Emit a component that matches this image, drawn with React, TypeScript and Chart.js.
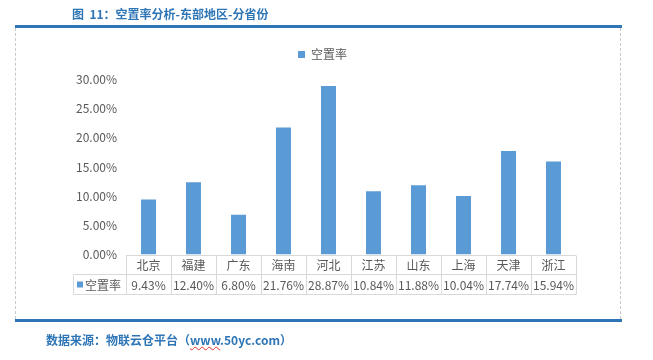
import React, { useEffect, useRef } from "react";
import { Chart, registerables } from "chart.js";

Chart.register(...registerables);

const categories = ["北京", "福建", "广东", "海南", "河北", "江苏", "山东", "上海", "天津", "浙江"];
const vacancyRate = [9.43, 12.4, 6.8, 21.76, 28.87, 10.84, 11.88, 10.04, 17.74, 15.94];
const seriesName = "空置率";
const titleText = "图  11：空置率分析-东部地区-分省份";
const sourceText = "数据来源：物联云仓平台（";
const sourceUrl = "www.50yc.com";

const FONT = '"Noto Sans CJK SC", "Noto Sans", sans-serif';
const BAR = "#5B9BD5";
const TEXT = "#595959";
const LINE = "#D9D9D9";
const BLUE = "#2E75B6";

const tablePlugin = {
  id: "dataTable",
  afterDraw(chart: any) {
    const ctx = chart.ctx;
    const xs = chart.scales.x;
    const area = chart.chartArea;
    const n = categories.length;
    const cw = (xs.right - xs.left) / n;
    const left = xs.left;
    const right = xs.right;
    const top = Math.round(area.bottom) + 0.5;
    const mid = top + 19;
    const bot = top + 39;
    const tableLeft = 73.5;
    ctx.save();
    ctx.strokeStyle = LINE;
    ctx.lineWidth = 1;
    ctx.beginPath();
    ctx.moveTo(left, top);
    ctx.lineTo(right, top);
    ctx.moveTo(tableLeft, mid);
    ctx.lineTo(right, mid);
    ctx.moveTo(tableLeft, bot);
    ctx.lineTo(right, bot);
    ctx.moveTo(tableLeft, mid);
    ctx.lineTo(tableLeft, bot);
    for (let i = 0; i <= n; i++) {
      const x = Math.round(left + i * cw) + 0.5;
      ctx.moveTo(x, top);
      ctx.lineTo(x, bot);
    }
    ctx.stroke();

    ctx.fillStyle = TEXT;
    ctx.font = "12px " + FONT;
    ctx.textAlign = "center";
    ctx.textBaseline = "middle";
    for (let i = 0; i < n; i++) {
      const cx = xs.getPixelForValue(i);
      ctx.fillText(categories[i], cx, (top + mid) / 2 + 0.5);
      ctx.fillText(vacancyRate[i].toFixed(2) + "%", cx, (mid + bot) / 2 + 0.5);
    }
    // legend key in table
    ctx.fillStyle = BAR;
    ctx.fillRect(77, (mid + bot) / 2 - 3, 6, 6);
    ctx.fillStyle = TEXT;
    ctx.textAlign = "left";
    ctx.fillText(seriesName, 85, (mid + bot) / 2 + 0.5);

    // top legend
    ctx.fillStyle = BAR;
    ctx.fillRect(298, 51, 7, 7);
    ctx.fillStyle = TEXT;
    ctx.fillText(seriesName, 311, 54.5);
    ctx.restore();
  },
};

export default function App() {
  const ref = useRef<HTMLCanvasElement | null>(null);
  useEffect(() => {
    if (!ref.current) return;
    const chart = new Chart(ref.current, {
      type: "bar",
      data: {
        labels: categories,
        datasets: [
          {
            label: seriesName,
            data: vacancyRate,
            backgroundColor: BAR,
            barPercentage: 0.333,
            categoryPercentage: 1,
          },
        ],
      },
      options: {
        responsive: false,
        animation: false,
        layout: { padding: { left: 66, right: 77, top: 79.5, bottom: 105.5 } },
        plugins: { legend: { display: false }, tooltip: { enabled: false } },
        scales: {
          x: { display: false },
          y: {
            min: 0,
            max: 30,
            afterFit: (axis: any) => {
              axis.width = 60;
            },
            grid: { display: false, drawTicks: false },
            border: { display: false },
            ticks: {
              stepSize: 5,
              padding: 9,
              color: TEXT,
              font: { size: 12, family: FONT },
              callback: (v: any) => Number(v).toFixed(2) + "%",
            },
          },
        },
      },
      plugins: [tablePlugin],
    });
    return () => chart.destroy();
  }, []);

  return (
    <div style={{ position: "fixed", left: 0, top: 0, width: 653, height: 360, background: "#fff", fontFamily: FONT }}>
      <canvas ref={ref} width={653} height={360} style={{ position: "absolute", left: 0, top: 0, width: 653, height: 360 }} />
      <div style={{ position: "absolute", left: 72, top: 5, fontSize: 12, fontWeight: "bold", color: BLUE, whiteSpace: "pre", lineHeight: "17px" }}>
        {titleText}
      </div>
      <div style={{ position: "absolute", left: 15, top: 25, width: 607, height: 3, background: BLUE }} />
      <div style={{ position: "absolute", left: 15, top: 28, height: 291, borderLeft: "1px dashed #C8C8C8" }} />
      <div style={{ position: "absolute", left: 620, top: 28, height: 291, borderLeft: "1px dashed #C8C8C8" }} />
      <div style={{ position: "absolute", left: 15, top: 319, width: 607, height: 3, background: BLUE }} />
      <div style={{ position: "absolute", left: 46, top: 331, fontSize: 12, fontWeight: "bold", color: BLUE, whiteSpace: "pre", lineHeight: "17px" }}>
        {sourceText}
        <span style={{ textDecoration: "underline wavy #E03030", textDecorationThickness: 1 }}>www</span>
        {sourceUrl.slice(3)}
        {"）"}
      </div>
    </div>
  );
}
